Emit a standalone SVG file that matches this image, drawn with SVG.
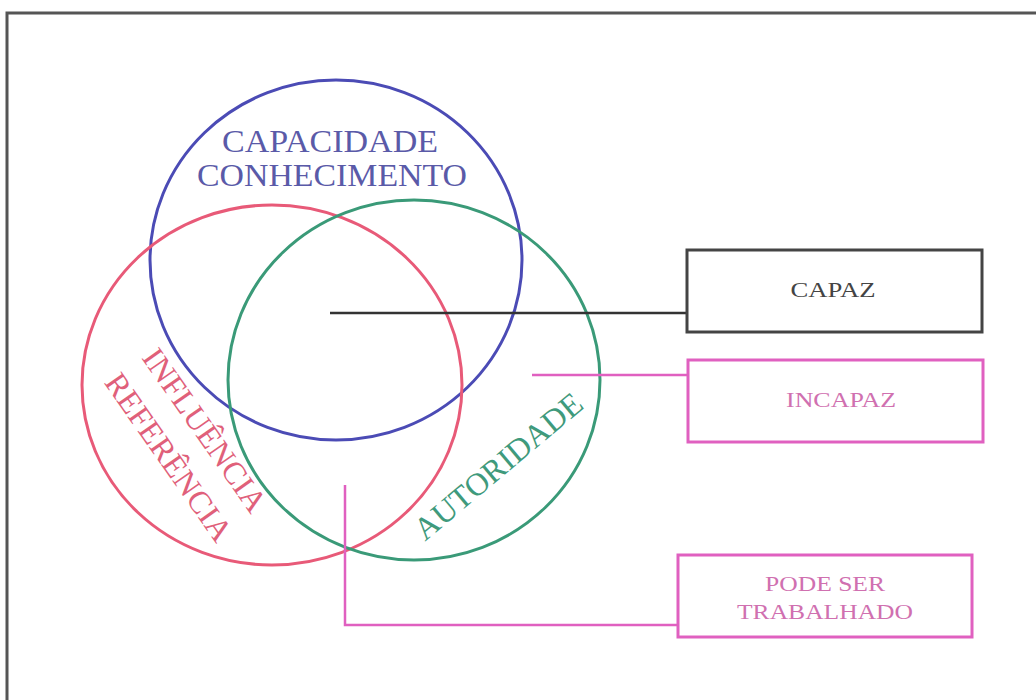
<svg xmlns="http://www.w3.org/2000/svg" width="1036" height="700" viewBox="0 0 1036 700">
  <style>
    .lbl { font-family: "Liberation Serif", "Times New Roman", serif; text-anchor: middle; }
    .circ { fill: none; stroke-width: 3; }
    .box { fill: #fff; stroke-width: 3; }
    .conn { fill: none; stroke-width: 2.5; }
  </style>
  <rect width="1036" height="700" fill="#fff"/>
  <!-- outer frame -->
  <rect x="7" y="13" width="1040" height="700" fill="none" stroke="#555" stroke-width="3"/>

  <g id="capacidade">
    <ellipse class="circ" cx="336" cy="260" rx="186" ry="180" stroke="#4b4bb5"/>
    <text class="lbl" x="330" y="152" font-size="31" fill="#5a5aa8" textLength="216" lengthAdjust="spacingAndGlyphs">CAPACIDADE</text>
    <text class="lbl" x="332" y="186" font-size="31" fill="#5a5aa8" textLength="270" lengthAdjust="spacingAndGlyphs">CONHECIMENTO</text>
  </g>

  <g id="influencia">
    <ellipse class="circ" cx="272" cy="385" rx="190" ry="180" stroke="#e85a78"/>
    <text class="lbl" font-size="32" fill="#e0607a" transform="translate(205,430) rotate(55)" dy="11">INFLUÊNCIA</text>
    <text class="lbl" font-size="32" fill="#e0607a" transform="translate(169,457) rotate(55)" dy="11">REFERÊNCIA</text>
  </g>

  <g id="autoridade">
    <ellipse class="circ" cx="414" cy="380" rx="186" ry="180" stroke="#3a9a78"/>
    <text class="lbl" font-size="32" fill="#3f9a7c" transform="translate(498,466) rotate(-40)" dy="11">AUTORIDADE</text>
  </g>

  <g id="connectors">
    <polyline class="conn" points="330,313 687,313" stroke="#333"/>
    <polyline class="conn" points="532,375 688,375" stroke="#e060c0"/>
    <polyline class="conn" points="345,485 345,625 678,625" stroke="#e060c0"/>
  </g>

  <g id="capaz">
    <rect class="box" x="687" y="250" width="295" height="82" stroke="#444"/>
    <text class="lbl" x="833" y="297" font-size="22" fill="#444" textLength="85" lengthAdjust="spacingAndGlyphs">CAPAZ</text>
  </g>

  <g id="incapaz">
    <rect class="box" x="688" y="360" width="295" height="82" stroke="#e060c0"/>
    <text class="lbl" x="841" y="407" font-size="22" fill="#d070b0" textLength="110" lengthAdjust="spacingAndGlyphs">INCAPAZ</text>
  </g>

  <g id="pode-ser-trabalhado">
    <rect class="box" x="678" y="555" width="294" height="82" stroke="#e060c0"/>
    <text class="lbl" x="825" y="591" font-size="22" fill="#d070b0" textLength="120" lengthAdjust="spacingAndGlyphs">PODE SER</text>
    <text class="lbl" x="825" y="619" font-size="22" fill="#d070b0" textLength="176" lengthAdjust="spacingAndGlyphs">TRABALHADO</text>
  </g>
</svg>
